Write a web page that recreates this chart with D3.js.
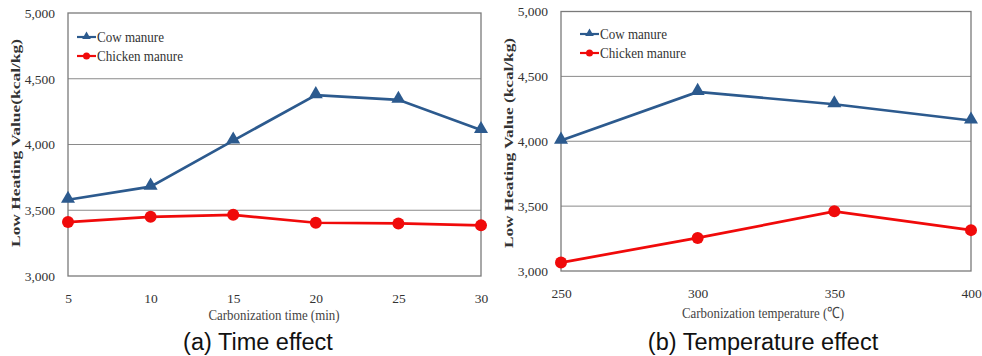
<!DOCTYPE html>
<html><head><meta charset="utf-8">
<script src="https://cdn.jsdelivr.net/npm/d3@7"></script>
<style>body{margin:0;background:#fff}svg{display:block}</style>
</head><body>
<svg id="c" width="982" height="356"></svg>
<script>
const timeCats = [5, 10, 15, 20, 25, 30];
const timeCow = [3580, 3680, 4030, 4375, 4340, 4110];
const timeChicken = [3410, 3450, 3465, 3405, 3400, 3385];
const tempCats = [250, 300, 350, 400];
const tempCow = [4005, 4380, 4285, 4160];
const tempChicken = [3065, 3255, 3460, 3315];
const yTicks = [3000, 3500, 4000, 4500, 5000];
const seriesNames = ["Cow manure", "Chicken manure"];

const svg = d3.select("#c");
const serif = "'Liberation Serif','Times New Roman',serif";
const cowColor = "#2C5A8E", chickColor = "#F00A0A";
const fmt = d3.format(",");

function panel(o) {
  const g = svg.append("g");
  const x = d3.scalePoint().domain(o.cats).range([o.x0, o.x1]);
  const y = d3.scaleLinear().domain([3000, 5000]).range([o.y1, o.y0]);
  g.selectAll(".grid").data(yTicks.slice(1, -1)).join("line")
    .attr("x1", o.x0).attr("x2", o.x1)
    .attr("y1", d => y(d)).attr("y2", d => y(d))
    .attr("stroke", "#8a8a8a").attr("stroke-width", 1);
  g.append("rect").attr("x", o.x0).attr("y", o.y0)
    .attr("width", o.x1 - o.x0).attr("height", o.y1 - o.y0)
    .attr("fill", "none").attr("stroke", "#7a7a7a").attr("stroke-width", 1.3);
  const ya = d3.axisLeft(y).tickValues(yTicks).tickFormat(fmt).tickSize(0).tickPadding(13);
  const yg = g.append("g").attr("transform", `translate(${o.x0},0)`).call(ya);
  yg.select(".domain").remove();
  yg.selectAll("text").attr("font-family", serif).attr("font-size", 13.5).attr("fill", "#333");
  const xa = d3.axisBottom(x).tickSize(0).tickPadding(17);
  const xg = g.append("g").attr("transform", `translate(0,${o.y1})`).call(xa);
  xg.select(".domain").remove();
  xg.selectAll("text").attr("font-family", serif).attr("font-size", 13.5).attr("fill", "#333");
  g.append("text").attr("x", o.xtX).attr("y", o.xtY).attr("text-anchor", "middle")
    .attr("font-family", serif).attr("font-size", 15.5).attr("fill", "#444")
    .attr("textLength", o.xtW).attr("lengthAdjust", "spacingAndGlyphs").text(o.xTitle);
  g.append("text").attr("transform", `translate(${o.ytX},${o.ytY}) rotate(-90)`)
    .attr("text-anchor", "middle").attr("font-family", serif).attr("font-weight", "bold")
    .attr("font-size", 13.5).attr("fill", "#333")
    .attr("textLength", o.ytW).attr("lengthAdjust", "spacingAndGlyphs").text(o.yTitle);
  g.append("text").attr("x", o.capX).attr("y", 350).attr("text-anchor", "middle")
    .attr("font-family", "'Liberation Sans',Arial,sans-serif").attr("font-size", 23.5)
    .attr("fill", "#111").text(o.caption);

  const line = d3.line().x((d, i) => x(o.cats[i])).y(d => y(d));
  const tri = d3.symbol().type(d3.symbolTriangle).size(85);
  g.append("path").datum(o.chick).attr("d", line).attr("fill", "none")
    .attr("stroke", chickColor).attr("stroke-width", 2.7);
  g.selectAll(".ck").data(o.chick).join("circle")
    .attr("cx", (d, i) => x(o.cats[i])).attr("cy", d => y(d)).attr("r", 6)
    .attr("fill", chickColor);
  g.append("path").datum(o.cow).attr("d", line).attr("fill", "none")
    .attr("stroke", cowColor).attr("stroke-width", 2.7);
  g.selectAll(".cw").data(o.cow).join("path")
    .attr("d", tri).attr("transform", (d, i) => `translate(${x(o.cats[i])},${y(d) - 1})`)
    .attr("fill", cowColor);

  const lg = g.append("g");
  const cols = [cowColor, chickColor];
  seriesNames.forEach((n, i) => {
    const ly = o.legY + i * 19;
    lg.append("line").attr("x1", o.legX).attr("x2", o.legX + 19)
      .attr("y1", ly).attr("y2", ly).attr("stroke", cols[i]).attr("stroke-width", 2.2);
    if (i === 0) lg.append("path").attr("d", d3.symbol().type(d3.symbolTriangle).size(32))
      .attr("transform", `translate(${o.legX + 9.5},${ly - 0.5})`).attr("fill", cols[i]);
    else lg.append("circle").attr("cx", o.legX + 9.5).attr("cy", ly).attr("r", 3.5).attr("fill", cols[i]);
    lg.append("text").attr("x", o.legX + 20).attr("y", ly + 5)
      .attr("font-family", serif).attr("font-size", 15).attr("fill", "#333")
      .attr("textLength", i === 0 ? 67 : 86).attr("lengthAdjust", "spacingAndGlyphs").text(n);
  });
}

panel({cats: timeCats, cow: timeCow, chick: timeChicken,
  x0: 68, x1: 481, y0: 13, y1: 276,
  xTitle: "Carbonization time (min)", xtX: 274, xtY: 320, xtW: 131,
  yTitle: "Low Heating Value(kcal/kg)", ytX: 20, ytY: 143, ytW: 208,
  caption: "(a) Time effect", capX: 258,
  legX: 77, legY: 37});
panel({cats: tempCats, cow: tempCow, chick: tempChicken,
  x0: 561, x1: 971, y0: 11.5, y1: 271,
  xTitle: "Carbonization temperature (\u2103)", xtX: 763, xtY: 318, xtW: 162,
  yTitle: "Low Heating Value (kcal/kg)", ytX: 513, ytY: 143, ytW: 210,
  caption: "(b) Temperature effect", capX: 763,
  legX: 580, legY: 34});
</script>
</body></html>
